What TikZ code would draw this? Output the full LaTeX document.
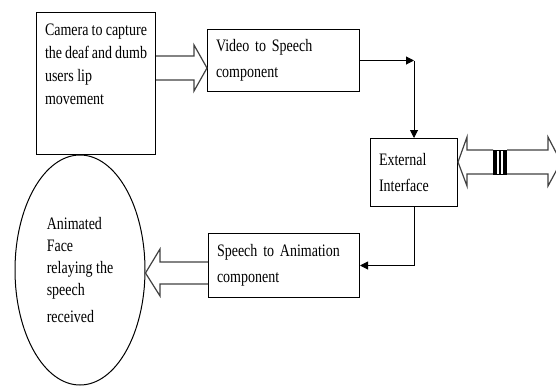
\documentclass[tikz,border=0pt]{standalone}
\usepackage{fontspec}
\setmainfont{Liberation Serif}[FakeStretch=0.8]
\usetikzlibrary{shapes.geometric}
\usetikzlibrary{arrows.meta}

\begin{document}
\begin{tikzpicture}[x=1pt,y=-1pt,>={Triangle[length=8pt,width=8pt]},
        box/.style={draw, line width=1pt, align=left, inner xsep=8.5pt,
          font=\fontsize{17.5}{26}\selectfont},
        fat/.style={draw, line width=1.2pt, black!75}]
        \clip (0,0) rectangle (556,386);
        \node[box, anchor=north west, inner ysep=11pt, font=\fontsize{17.5}{23}\selectfont] (cam) at (36,12)
          {\parbox[t][120pt][t]{102pt}{Camera to capture\\the deaf and dumb\\users lip\\movement}};
        \node[box, anchor=north west, text width=135pt, minimum height=62pt] (vid) at (207,29) {Video to Speech\\component};
        \node[box, anchor=north west, text width=70pt, minimum height=68pt] (ext) at (370,138) {External\\Interface};
        \node[box, anchor=north west, text width=134pt, minimum height=64pt] (spc) at (208,233) {Speech to Animation\\component};
        \node[ellipse, draw, line width=1pt, align=left, minimum width=130pt, minimum height=230pt,
          font=\fontsize{17.5}{22}\selectfont] (face) at (80,270) {Animated\\Face\\relaying the\\speech\\[5pt]received};
        \coordinate (turn) at (ext.north |- vid.east);
        \draw[->, line width=1pt] (vid.east) -- (turn);
        \draw[->, line width=1pt] (turn) -- (ext.north);
        \draw[->, line width=1pt] (ext.south) |- (spc.east);
        \draw[fat] (cam.east |- 0,56) -- (194,56) -- (194,45) -- (vid.west |- 0,68) -- (194,91) -- (194,80) -- (cam.east |- 0,80);
        \draw[fat] (spc.west |- 0,262) -- (160,262) -- (160,249) -- (face.east |- 0,273) -- (160,296) -- (160,284) -- (spc.west |- 0,284);
        \draw[fat] (493,150) -- (467,150) -- (467,137) -- (ext.east |- 0,162) -- (467,186) -- (467,174) -- (493,174);
        \draw[fat] (507,150) -- (548,150) -- (548,137) -- (561,162) -- (548,186) -- (548,174) -- (507,174);
        \draw[line width=1pt] (493.5,150) rectangle (506.5,174);
        \draw[line width=2.5pt] (495.5,150) -- (495.5,174) (500,150) -- (500,174) (504.5,150) -- (504.5,174);
    \end{tikzpicture}
\end{document}
